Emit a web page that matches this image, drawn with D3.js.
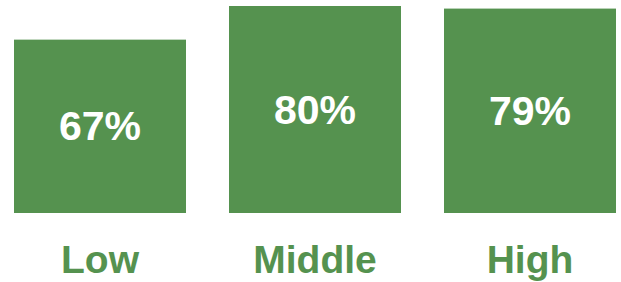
<!DOCTYPE html>
<html>
<head>
<meta charset="utf-8">
<script src="https://cdn.jsdelivr.net/npm/d3@7"></script>
<style>
  html, body { margin: 0; padding: 0; background: #fff; }
  svg { display: block; }
</style>
</head>
<body>
<svg id="chart" width="621" height="282"></svg>
<script>
// data
const categories = ['Low', 'Middle', 'High'];
const values = [67, 80, 79];

const GREEN = '#55924f';
const w = 621, h = 282;
const baseY = 213;

const svg = d3.select('#chart');

// bars: 172px wide, 43px gaps, first at x=14
const x = d3.scaleBand().domain(categories)
    .range([-7.5, 637.5]).paddingInner(0.2).paddingOuter(0.1);
const y = d3.scaleLinear().domain([0, 80]).range([baseY, 6]);

const g = svg.append('g');

g.selectAll('rect.bar')
    .data(values)
    .join('rect')
    .attr('class', 'bar')
    .attr('x', (d, i) => x(categories[i]))
    .attr('y', d => y(d))
    .attr('width', x.bandwidth())
    .attr('height', d => baseY - y(d))
    .attr('fill', GREEN);

// value labels, centred in the bar
g.selectAll('text.val')
    .data(values)
    .join('text')
    .attr('class', 'val')
    .attr('x', (d, i) => x(categories[i]) + x.bandwidth() / 2)
    .attr('y', d => (y(d) + baseY) / 2)
    .attr('text-anchor', 'middle').attr('dominant-baseline', 'central')
    .attr('font-family', 'Liberation Sans, Arial, sans-serif')
    .attr('font-size', 41).attr('font-weight', 700).attr('fill', '#fff')
    .text(d => `${d}%`);

// category labels
g.selectAll('text.cat')
    .data(categories)
    .join('text')
    .attr('class', 'cat')
    .attr('x', d => x(d) + x.bandwidth() / 2)
    .attr('y', 273)
    .attr('text-anchor', 'middle')
    .attr('font-family', 'Liberation Sans, Arial, sans-serif')
    .attr('font-size', 39).attr('font-weight', 700).attr('fill', GREEN)
    .text(d => d);
</script>
</body>
</html>
